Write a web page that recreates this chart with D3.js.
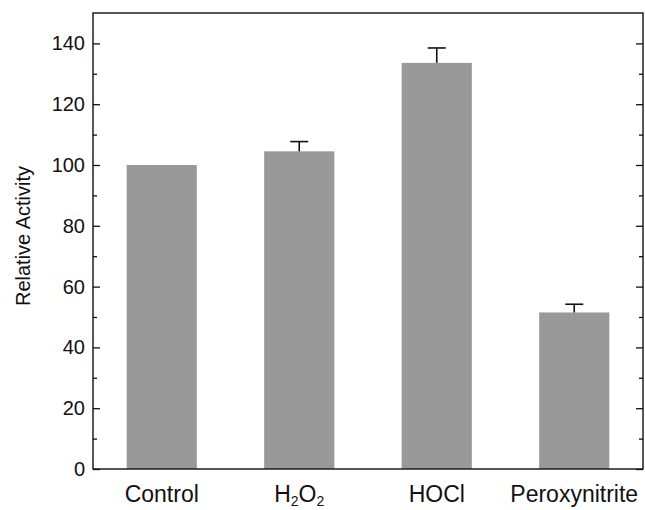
<!DOCTYPE html>
<html>
<head>
<meta charset="utf-8">
<script src="https://cdn.jsdelivr.net/npm/d3@7"></script>
<style>
  body { margin: 0; background: #fff; }
  text { font-family: "Liberation Sans", Arial, sans-serif; fill: #111; }
</style>
</head>
<body>
<svg id="chart" width="645" height="510"></svg>
<script>
// data
const categories = ["Control", "H2O2", "HOCl", "Peroxynitrite"]
const values = [100, 104.5, 133.6, 51.5]
const errors = [0, 3.2, 4.9, 2.7]
const yTicks = [0, 20, 40, 60, 80, 100, 120, 140]

const margin = { top: 13, right: 2, bottom: 41, left: 93 }
const width = 645, height = 510
const svg = d3.select('#chart')

const x = d3.scaleBand()
  .domain(categories)
  .range([margin.left, width - margin.right])
  .paddingInner(0.49)
  .paddingOuter(0.245)

const y = d3.scaleLinear()
  .domain([0, 150])
  .range([height - margin.bottom, margin.top])

// bars
svg.append('g').selectAll('rect').data(categories).join('rect')
  .attr('x', d => x(d))
  .attr('y', (d, i) => y(values[i]))
  .attr('width', x.bandwidth())
  .attr('height', (d, i) => y(0) - y(values[i]))
  .attr('fill', '#999999')

// error bars (upper only)
const errG = svg.append('g').attr('stroke', '#111').attr('stroke-width', 1.6)
categories.forEach((c, i) => {
  if (!errors[i]) return
  const cx = x(c) + x.bandwidth() / 2
  errG.append('line')
    .attr('x1', cx).attr('x2', cx)
    .attr('y1', y(values[i])).attr('y2', y(values[i] + errors[i]))
  errG.append('line')
    .attr('x1', cx - 9).attr('x2', cx + 9)
    .attr('y1', y(values[i] + errors[i])).attr('y2', y(values[i] + errors[i]))
})

// left axis: major + minor ticks inside
const minor = d3.range(10, 150, 20)
svg.append('g')
  .attr('transform', `translate(${margin.left},0)`)
  .call(d3.axisRight(y).tickValues(yTicks).tickSize(7).tickFormat(''))
  .select('.domain').remove()
svg.append('g')
  .attr('transform', `translate(${margin.left},0)`)
  .call(d3.axisRight(y).tickValues(minor).tickSize(4).tickFormat(''))
  .select('.domain').remove()

// right axis mirrored
const rx = width - margin.right
svg.append('g')
  .attr('transform', `translate(${rx},0)`)
  .call(d3.axisLeft(y).tickValues(yTicks).tickSize(7).tickFormat(''))
  .select('.domain').remove()
svg.append('g')
  .attr('transform', `translate(${rx},0)`)
  .call(d3.axisLeft(y).tickValues(minor).tickSize(4).tickFormat(''))
  .select('.domain').remove()

svg.selectAll('.tick line').attr('stroke', '#111').attr('stroke-width', 1.3)

// tick labels
svg.append('g').selectAll('text').data(yTicks).join('text')
  .attr('x', margin.left - 8)
  .attr('y', d => y(d))
  .attr('dy', '0.35em')
  .attr('text-anchor', 'end')
  .style('font-size', '20px')
  .text(d => d)

// frame
svg.append('rect')
  .attr('x', margin.left)
  .attr('y', margin.top)
  .attr('width', width - margin.right - margin.left)
  .attr('height', height - margin.bottom - margin.top)
  .attr('fill', 'none')
  .attr('stroke', '#111')
  .attr('stroke-width', 1.4)

// category labels
const xl = svg.append('g').selectAll('text').data(categories).join('text')
  .attr('x', d => x(d) + x.bandwidth() / 2)
  .attr('y', 502)
  .attr('text-anchor', 'middle')
  .style('font-size', '23px')
xl.each(function (d) {
  const t = d3.select(this)
  if (d === 'H2O2') {
    t.append('tspan').text('H')
    t.append('tspan').text('2').style('font-size', '14px').attr('dy', 4)
    t.append('tspan').text('O').attr('dy', -4)
    t.append('tspan').text('2').style('font-size', '14px').attr('dy', 4)
  } else {
    t.text(d)
  }
})

// y title
svg.append('text')
  .attr('transform', `translate(30,236) rotate(-90)`)
  .attr('text-anchor', 'middle')
  .style('font-size', '20px')
  .text('Relative Activity')
</script>
</body>
</html>
